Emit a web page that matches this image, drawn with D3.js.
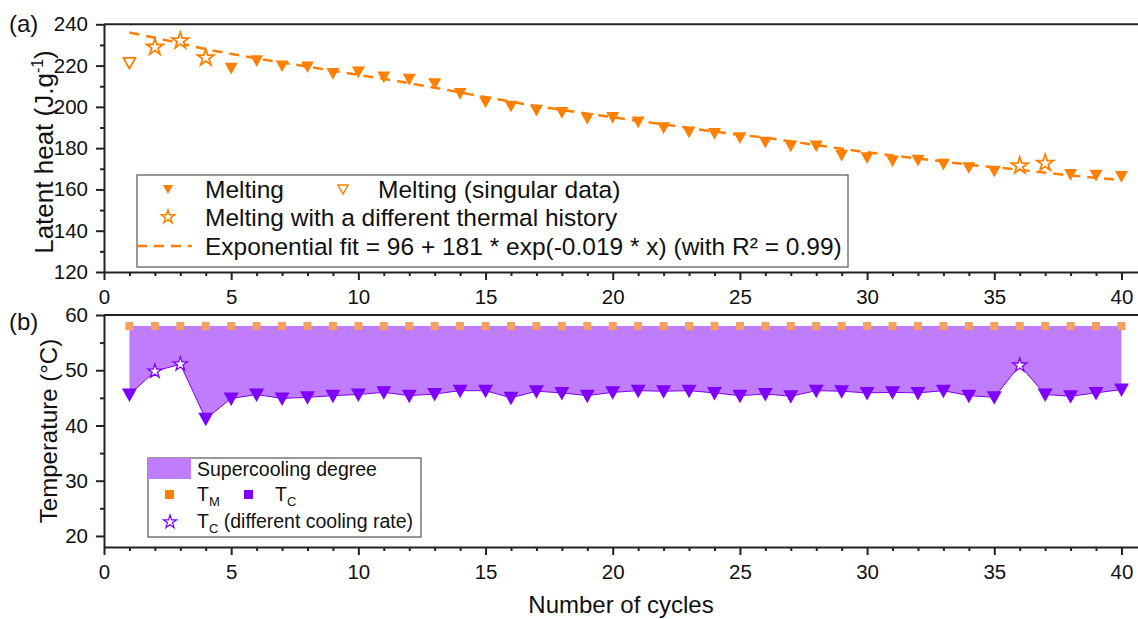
<!DOCTYPE html>
<html>
<head>
<meta charset="utf-8">
<script src="https://cdn.jsdelivr.net/npm/d3@7"></script>
<style>
  body { margin: 0; background: #fff; }
  svg { display: block; font-family: "Liberation Sans", Arial, sans-serif; }
</style>
</head>
<body>
<div class="graph"></div>
<script>
// (a) latent heat of melting vs cycle
var meltCycles = [5, 6, 7, 8, 9, 10, 11, 12, 13, 14, 15, 16, 17, 18, 19, 20, 21, 22, 23, 24, 25,
                  26, 27, 28, 29, 30, 31, 32, 33, 34, 35, 38, 39, 40];
var meltValues = [218.8, 222.5, 220, 219.5, 216.3, 217, 214.6, 213.5, 211.4, 206.6, 202.5, 200.5,
                  198.5, 197.4, 194.5, 195, 192.8, 190, 188, 187.2, 185.2, 183, 181.2, 181.2, 176.7,
                  175.5, 173.9, 174.3, 172.3, 170.7, 169, 167.4, 167, 166.4];
var singularCycles = [1];
var singularValues = [221.4];
var thermalCycles = [2, 3, 4, 36, 37];
var thermalValues = [228.9, 232, 223.8, 171.4, 172.7];
var fitCycles = [1, 2, 4, 6, 8, 10, 12, 14, 16, 18, 20, 22, 24, 26, 28, 30, 32, 34, 36, 38, 40];
var fitValues = [236, 233.5, 228, 223.5, 219.5, 215.5, 211.5, 207, 202.5, 198.5, 195, 191.5, 188,
                 185, 181.5, 178, 175, 172, 169.5, 166.8, 164.5];

// (b) melting / crystallisation temperatures vs cycle
var tmCycles = [1, 2, 3, 4, 5, 6, 7, 8, 9, 10, 11, 12, 13, 14, 15, 16, 17, 18, 19, 20,
                21, 22, 23, 24, 25, 26, 27, 28, 29, 30, 31, 32, 33, 34, 35, 36, 37, 38, 39, 40];
var tmValues = [58, 58, 58, 58, 58, 58, 58, 58, 58, 58, 58, 58, 58, 58, 58, 58, 58, 58, 58, 58,
                58, 58, 58, 58, 58, 58, 58, 58, 58, 58, 58, 58, 58, 58, 58, 58, 58, 58, 58, 58];
var tcCycles = [1, 4, 5, 6, 7, 8, 9, 10, 11, 12, 13, 14, 15, 16, 17, 18, 19, 20, 21, 22, 23,
                24, 25, 26, 27, 28, 29, 30, 31, 32, 33, 34, 35, 37, 38, 39, 40];
var tcValues = [45.6, 41.2, 44.9, 45.6, 44.9, 45.1, 45.4, 45.6, 46, 45.4, 45.7, 46.3, 46.3, 45,
                46.2, 45.9, 45.4, 46, 46.3, 46.2, 46.3, 45.9, 45.4, 45.7, 45.3, 46.3, 46.2, 45.9,
                46, 45.9, 46.3, 45.4, 45.1, 45.6, 45.3, 45.9, 46.5];
var tcRateCycles = [2, 3, 36];
var tcRateValues = [49.8, 51.1, 50.9];

var xTicks = [0, 5, 10, 15, 20, 25, 30, 35, 40];
var yTicksA = [120, 140, 160, 180, 200, 220, 240];
var yTicksB = [20, 30, 40, 50, 60];

var width = 1138;
var height = 619;
var orange = "#ff8000";
var violet = "#8000ff";
var fillViolet = "#bf7cfc";

var svg = d3.select(".graph").append("svg")
  .attr("width", width)
  .attr("height", height);

var x = d3.scaleLinear().domain([0, 40.65]).range([104, 1138]);
var yA = d3.scaleLinear().domain([120, 240]).range([272, 24.3]);
var yB = d3.scaleLinear().domain([18, 60]).range([547, 315]);

function zip(xs, ys) {
    return xs.map(function (c, i) { return {x: c, y: ys[i]}; });
}

// down-pointing triangle, size = half width
var triDown = {
    draw: function (ctx, r) {
        ctx.moveTo(-r, -0.8 * r);
        ctx.lineTo(r, -0.8 * r);
        ctx.lineTo(0, r);
        ctx.closePath();
    }
};

function drawAxes(y, yTicks, yMinor, yTop) {
    var xAxisGroup = svg.append("g")
        .attr("transform", "translate(0," + y.range()[0] + ")");
    d3.axisBottom(x).tickValues(xTicks).tickSize(8).tickSizeOuter(0).tickPadding(9)(xAxisGroup);
    var xMinorGroup = svg.append("g")
        .attr("transform", "translate(0," + y.range()[0] + ")");
    d3.axisBottom(x).tickValues(d3.range(1, 41).filter(d => d % 5)).tickSize(4).tickFormat("")(xMinorGroup);
    xMinorGroup.select(".domain").remove();

    var yAxisGroup = svg.append("g")
        .attr("transform", "translate(104,0)");
    d3.axisLeft(y).tickValues(yTicks).tickSize(8).tickSizeOuter(0).tickPadding(8)(yAxisGroup);
    var yMinorGroup = svg.append("g")
        .attr("transform", "translate(104,0)");
    d3.axisLeft(y).tickValues(yMinor).tickSize(4).tickFormat("")(yMinorGroup);
    yMinorGroup.select(".domain").remove();

    svg.append("line")
        .attr("x1", 104).attr("x2", width)
        .attr("y1", y(yTop)).attr("y2", y(yTop))
        .attr("stroke", "#222").attr("stroke-width", 2);

    [xAxisGroup, xMinorGroup, yAxisGroup, yMinorGroup].forEach(function (g) {
        g.selectAll(".domain, line").attr("stroke", "#222").attr("stroke-width", 2);
        g.selectAll("text").attr("font-size", 20.5).attr("font-family", "Liberation Sans, Arial, sans-serif").attr("fill", "#111");
    });
}

// ---------- panel (a) ----------
drawAxes(yA, yTicksA, [130, 150, 170, 190, 210, 230], 240);

var fitLine = d3.line()
    .x(d => x(d.x))
    .y(d => yA(d.y))
    .curve(d3.curveMonotoneX);

svg.append("path")
    .datum(zip(fitCycles, fitValues))
    .attr("fill", "none")
    .attr("stroke", orange)
    .attr("stroke-width", 2.5)
    .attr("stroke-dasharray", "10,7")
    .attr("d", fitLine);

svg.append("g").selectAll("path")
    .data(zip(meltCycles, meltValues))
    .join("path")
    .attr("transform", d => "translate(" + x(d.x) + "," + yA(d.y) + ")")
    .attr("d", d3.symbol(triDown, 6.5))
    .attr("fill", orange);

svg.append("g").selectAll("path")
    .data(zip(singularCycles, singularValues))
    .join("path")
    .attr("transform", d => "translate(" + x(d.x) + "," + yA(d.y) + ")")
    .attr("d", d3.symbol(triDown, 6))
    .attr("fill", "#fff")
    .attr("stroke", orange)
    .attr("stroke-width", 1.8);

svg.append("g").selectAll("path")
    .data(zip(thermalCycles, thermalValues))
    .join("path")
    .attr("transform", d => "translate(" + x(d.x) + "," + yA(d.y) + ")")
    .attr("d", d3.symbol(d3.symbolStar, 85))
    .attr("fill", "#fff")
    .attr("stroke", orange)
    .attr("stroke-width", 1.8);

// legend (a)
var legA = svg.append("g");
legA.append("rect")
    .attr("x", 137).attr("y", 175).attr("width", 711).attr("height", 92)
    .attr("fill", "#fff").attr("stroke", "#555").attr("stroke-width", 1.2);
legA.append("path")
    .attr("transform", "translate(168,189)")
    .attr("d", d3.symbol(triDown, 5))
    .attr("fill", orange);
legA.append("path")
    .attr("transform", "translate(343,189)")
    .attr("d", d3.symbol(triDown, 5))
    .attr("fill", "#fff").attr("stroke", orange).attr("stroke-width", 1.5);
legA.append("path")
    .attr("transform", "translate(168,217)")
    .attr("d", d3.symbol(d3.symbolStar, 55))
    .attr("fill", "#fff").attr("stroke", orange).attr("stroke-width", 1.5);
legA.append("line")
    .attr("x1", 137).attr("x2", 192).attr("y1", 246).attr("y2", 246)
    .attr("stroke", orange).attr("stroke-width", 2.5).attr("stroke-dasharray", "10,7");

var legAText = [
    {t: "Melting", x: 205, y: 189},
    {t: "Melting (singular data)", x: 378, y: 189},
    {t: "Melting with a different thermal history", x: 205, y: 217},
    {t: "Exponential fit = 96 + 181 * exp(-0.019 * x) (with R\u00b2 = 0.99)", x: 205, y: 246}
];
legA.selectAll("text")
    .data(legAText)
    .join("text")
    .attr("x", d => d.x)
    .attr("y", d => d.y + 8.5)
    .attr("font-size", 24.5)
    .attr("fill", "#111")
    .text(d => d.t);

// ---------- panel (b) ----------
var tcAll = zip(tcCycles, tcValues).concat(zip(tcRateCycles, tcRateValues))
    .sort((a, b) => a.x - b.x);
tcAll.forEach(function (d) { d.tm = tmValues[tmCycles.indexOf(d.x)]; });

var area = d3.area()
    .x(d => x(d.x))
    .y0(d => yB(d.y))
    .y1(d => yB(d.tm));

svg.append("path")
    .datum(tcAll)
    .attr("fill", fillViolet)
    .attr("d", area);

drawAxes(yB, yTicksB, [25, 35, 45, 55], 60);

svg.append("g").selectAll("rect")
    .data(zip(tmCycles, tmValues))
    .join("rect")
    .attr("x", d => x(d.x) - 4)
    .attr("y", d => yB(d.y) - 4)
    .attr("width", 8)
    .attr("height", 8)
    .attr("fill", "#f5a060");

var tcLine = d3.line()
    .x(d => x(d.x))
    .y(d => yB(d.y));

svg.append("path")
    .datum(tcAll)
    .attr("fill", "none")
    .attr("stroke", violet)
    .attr("stroke-width", 1)
    .attr("d", tcLine);

svg.append("g").selectAll("path")
    .data(zip(tcCycles, tcValues))
    .join("path")
    .attr("transform", d => "translate(" + x(d.x) + "," + yB(d.y) + ")")
    .attr("d", d3.symbol(triDown, 7.5))
    .attr("fill", violet);

svg.append("g").selectAll("path")
    .data(zip(tcRateCycles, tcRateValues))
    .join("path")
    .attr("transform", d => "translate(" + x(d.x) + "," + yB(d.y) + ")")
    .attr("d", d3.symbol(d3.symbolStar, 60))
    .attr("fill", "#fff")
    .attr("stroke", violet)
    .attr("stroke-width", 1.3);

// legend (b)
var legB = svg.append("g");
legB.append("rect")
    .attr("x", 148).attr("y", 458).attr("width", 273).attr("height", 79)
    .attr("fill", "#fff").attr("stroke", "#555").attr("stroke-width", 1.2);
legB.append("rect")
    .attr("x", 148).attr("y", 458).attr("width", 43).attr("height", 21)
    .attr("fill", fillViolet);
legB.append("rect")
    .attr("x", 165).attr("y", 490).attr("width", 9).attr("height", 9)
    .attr("fill", orange);
legB.append("rect")
    .attr("x", 244).attr("y", 490).attr("width", 9).attr("height", 9)
    .attr("fill", violet);
legB.append("path")
    .attr("transform", "translate(170,522)")
    .attr("d", d3.symbol(d3.symbolStar, 55))
    .attr("fill", "#fff").attr("stroke", violet).attr("stroke-width", 1.2);

legB.append("text")
    .attr("x", 197).attr("y", 476)
    .attr("font-size", 19.5).attr("fill", "#111")
    .text("Supercooling degree");

function tSub(xPos, yPos, sub, rest) {
    var t = legB.append("text")
        .attr("x", xPos).attr("y", yPos)
        .attr("font-size", 19.5).attr("fill", "#111");
    t.append("tspan").text("T");
    t.append("tspan").attr("font-size", 13).attr("dy", 5).text(sub);
    if (rest) t.append("tspan").attr("dy", -5).text(rest);
}
tSub(197, 501, "M");
tSub(275, 501, "C");
tSub(197, 528, "C", " (different cooling rate)");

// ---------- labels ----------
svg.append("text")
    .attr("x", 9).attr("y", 32)
    .attr("font-size", 24).attr("fill", "#111")
    .text("(a)");
svg.append("text")
    .attr("x", 9).attr("y", 330)
    .attr("font-size", 24).attr("fill", "#111")
    .text("(b)");

var yTitleA = svg.append("text")
    .attr("transform", "translate(53,152) rotate(-90)")
    .attr("text-anchor", "middle")
    .attr("font-size", 26).attr("fill", "#111");
yTitleA.append("tspan").text("Latent heat (J.g");
yTitleA.append("tspan").attr("font-size", 16).attr("dy", -10).text("-1");
yTitleA.append("tspan").attr("dy", 10).text(")");

svg.append("text")
    .attr("transform", "translate(57," + ((315 + 547) / 2) + ") rotate(-90)")
    .attr("text-anchor", "middle")
    .attr("font-size", 24).attr("fill", "#111")
    .text("Temperature (\u00b0C)");

svg.append("text")
    .attr("x", (104 + 1138) / 2).attr("y", 613)
    .attr("text-anchor", "middle")
    .attr("font-size", 24).attr("fill", "#111")
    .text("Number of cycles");
</script>
</body>
</html>
